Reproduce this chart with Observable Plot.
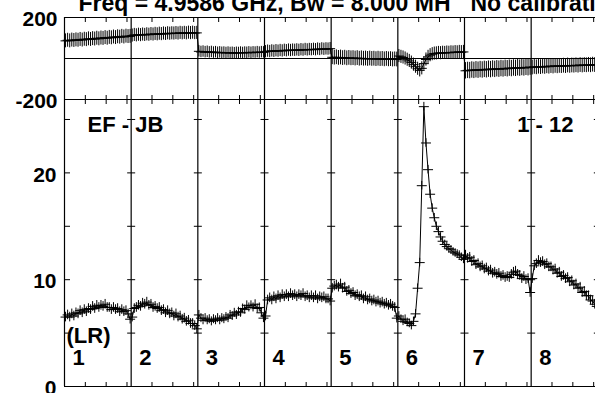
<!DOCTYPE html>
<html><head><meta charset="utf-8">
<script src="https://cdn.jsdelivr.net/npm/d3@7"></script>
<script src="https://cdn.jsdelivr.net/npm/@observablehq/plot@0.6"></script>
<style>
html,body{margin:0;padding:0;background:#fff;overflow:hidden;width:595px;height:393px;}
#wrap{position:relative;width:595px;height:393px;overflow:hidden;}
#wrap svg{position:absolute;left:0;top:0;}
</style></head><body><div id="wrap"></div>
<script>
// ---- data ----
const titleLeft = "Freq = 4.9586 GHz, Bw = 8.000 MH";
const titleRight = "No calibrati";
const baselineLabel = "EF - JB";
const chanRange = "1 - 12";
const polLabel = "(LR)";
const ifLabels = ["1","2","3","4","5","6","7","8"];
const nChan = 32;
const chanTicks = [10, 20, 30];
const phaseLabels = [-200, 200];
const ampLabels = [0, 10, 20];
const ampMinorTicks = [5, 10, 15, 20, 25];
const ampMax = 26.87;

const amp1 = [6.5,6.7,6.5,6.8,6.6,6.9,6.8,7.1,6.9,7.2,7.0,7.3,7.2,7.5,7.3,7.6,7.4,7.6,7.5,7.7,7.4,7.4,7.2,7.4,7.2,7.3,7.0,7.2,7.0,7.1,6.8,6.3];
const amp2 = [6.5,7.3,7.4,7.6,7.5,7.8,7.7,7.9,7.6,7.7,7.4,7.5,7.3,7.4,7.1,7.2,6.9,7.1,6.8,6.9,6.6,6.8,6.5,6.6,6.3,6.4,6.1,6.2,5.9,5.9,5.7,5.4];
const amp3 = [6.7,6.4,6.2,6.4,6.2,6.3,6.1,6.3,6.2,6.4,6.2,6.4,6.3,6.5,6.4,6.7,6.6,6.9,6.7,7.0,6.9,7.3,7.2,7.6,7.4,7.6,7.4,7.7,7.3,7.4,6.9,6.4];
const amp4 = [6.6,8.1,8.3,8.1,8.4,8.2,8.5,8.3,8.6,8.4,8.6,8.4,8.7,8.5,8.6,8.4,8.6,8.5,8.7,8.4,8.5,8.3,8.5,8.3,8.5,8.2,8.4,8.3,8.4,8.2,8.2,8.0];
const amp5 = [9.2,9.4,9.5,9.3,9.6,9.2,9.3,8.9,9.0,8.7,8.8,8.5,8.6,8.4,8.5,8.2,8.4,8.1,8.2,8.0,8.1,7.9,8.0,7.8,7.9,7.7,7.8,7.6,7.7,7.5,7.4,6.4];
const amp6 = [6.6,6.3,6.1,6.3,6.0,5.9,5.7,6.1,6.8,9.2,11.6,18.8,26.2,22.8,20.3,18.0,16.7,15.8,15.0,14.5,14.0,13.6,13.3,13.1,12.9,12.8,12.6,12.5,12.4,12.3,12.1,11.9];
const amp7 = [12.3,12.0,12.1,11.7,11.8,11.4,11.5,11.2,11.3,11.0,11.1,10.8,10.9,10.6,10.7,10.5,10.6,10.3,10.4,10.2,10.3,10.2,10.5,10.7,10.8,10.5,10.4,10.1,10.3,10.0,10.1,8.8];
const amp8 = [10.1,11.3,11.5,11.8,11.6,11.7,11.4,11.5,11.2,11.2,10.9,11.0,10.6,10.7,10.3,10.4,10.1,10.2,9.8,9.9,9.5,9.6,9.2,9.3,8.8,8.9,8.5,8.5,8.1,8.0,7.7,7.5];

const ph1 = [86,89,86,90,88,91,89,93,90,94,92,96,93,97,95,99,96,100,98,102,99,103,101,105,102,106,104,108,105,109,107,108];
const ph2 = [112,115,113,116,114,117,115,118,116,119,117,120,118,121,119,122,120,123,121,123,122,124,122,125,123,125,123,126,124,126,124,125];
const ph3 = [35,32,34,31,33,30,32,29,31,28,30,28,29,27,29,27,28,26,28,27,29,27,29,28,30,28,30,29,31,29,31,30];
const ph4 = [33,36,34,37,35,38,36,39,37,40,38,41,39,41,40,42,40,43,41,44,42,44,43,45,43,46,44,47,45,47,46,48];
const ph5 = [6,4,6,3,5,2,4,1,3,1,2,0,2,-1,1,-1,0,-2,0,-2,-1,-3,-1,-3,-2,-4,-2,-4,-3,-5,-4,-5];
const ph6 = [12,8,5,0,-6,-12,-20,-30,-40,-50,-58,-48,-25,-5,8,16,21,24,25,27,26,28,27,29,28,30,29,31,30,32,31,32];
const ph7 = [-60,-58,-59,-56,-58,-55,-57,-54,-56,-53,-55,-52,-54,-51,-53,-50,-52,-49,-51,-48,-50,-47,-49,-46,-48,-45,-47,-44,-46,-43,-45,-42];
const ph8 = [-44,-41,-43,-40,-42,-39,-41,-38,-40,-37,-39,-36,-38,-36,-37,-35,-37,-34,-36,-34,-35,-33,-35,-32,-34,-32,-33,-31,-33,-30,-32,-30];

const ampErr = [0.45,0.45,0.42,0.45,0.45,0.4,0.45,0.45];
const phErr = [34,32,28,30,36,32,40,36];

// ---- build table ----
const amps = [amp1,amp2,amp3,amp4,amp5,amp6,amp7,amp8];
const phs = [ph1,ph2,ph3,ph4,ph5,ph6,ph7,ph8];
const data = [];
amps.forEach((a, k) => a.forEach((v, c) => data.push({
  x: k * nChan + c + 0.5, amp: v, ae: ampErr[k], ph: phs[k][c], pe: phErr[k]
})));
const bounds = d3.range(0, ifLabels.length + 1).map(k => k * nChan);
const inner = bounds.slice(1);
const xTicks = d3.range(ifLabels.length).flatMap(k => chanTicks.map(t => k * nChan + t));
const ampCross = inner.flatMap(b => ampMinorTicks.map(v => ({b, v})));

const font = "'Liberation Sans', Arial, Helvetica, sans-serif";
const hbar = {draw(ctx, size) { const r = Math.sqrt(size / Math.PI); ctx.moveTo(-r, 0); ctx.lineTo(r, 0); }};
const xOpt = {domain: [0, ifLabels.length * nChan], range: [64, 597.33]};
const styleOpt = {background: "transparent", overflow: "visible", fontFamily: font, fontWeight: "bold", fontSize: "21px", color: "black"};
const txt = {fontWeight: "bold", lineAnchor: "middle"};

const topPlot = Plot.plot({
  width: 595, height: 393, marginLeft: 64, marginRight: 0, marginTop: 17, marginBottom: 294,
  x: xOpt, y: {domain: [-200, 200]},
  style: styleOpt,
  marks: [
    Plot.ruleY([-200, 0, 200], {stroke: "black", strokeWidth: 1.2}),
    Plot.ruleX(bounds, {stroke: "black", strokeWidth: 1.2}),
    Plot.axisX(xTicks, {anchor: "top", tickSize: -4, tickFormat: () => "", label: null}),
    Plot.axisX(xTicks, {anchor: "bottom", tickSize: -4, tickFormat: () => "", label: null}),
    Plot.axisY(phaseLabels, {anchor: "left", tickSize: 0, tickPadding: 7, tickFormat: d => String(d), label: null, dy: 2, fontSize: 21}),
    Plot.line(data, {x: "x", y: "ph", stroke: "black", strokeWidth: 1}),
    Plot.ruleX(data, {x: "x", y1: d => d.ph - d.pe, y2: d => d.ph + d.pe, stroke: "black", strokeWidth: 1}),
    Plot.dot(data, {x: "x", y: "ph", symbol: hbar, r: 5, stroke: "black", fill: "none", strokeWidth: 1}),
    Plot.text([titleLeft], {...txt, frameAnchor: "top-left", textAnchor: "start", dx: 14, dy: -13.4, fontSize: 23}),
    Plot.text([titleRight], {...txt, frameAnchor: "top-left", textAnchor: "start", dx: 406, dy: -13.4, fontSize: 23})
  ]
});

const botPlot = Plot.plot({
  width: 595, height: 393, marginLeft: 64, marginRight: 0, marginTop: 99, marginBottom: 7,
  x: xOpt, y: {domain: [0, ampMax]},
  style: styleOpt,
  marks: [
    Plot.ruleY([0], {stroke: "black", strokeWidth: 1.2}),
    Plot.ruleX(bounds, {stroke: "black", strokeWidth: 1.2}),
    Plot.axisX(xTicks, {anchor: "top", tickSize: -4, tickFormat: () => "", label: null}),
    Plot.axisX(xTicks, {anchor: "bottom", tickSize: -4, tickFormat: () => "", label: null}),
    Plot.axisY(ampMinorTicks, {anchor: "left", tickSize: -6, tickFormat: () => "", label: null}),
    Plot.dot(ampCross, {x: "b", y: "v", symbol: hbar, r: 4, stroke: "black", fill: "none", strokeWidth: 1}),
    Plot.axisY(ampLabels, {anchor: "left", tickSize: 0, tickPadding: 8, tickFormat: d => String(d), label: null, dy: 2, fontSize: 21}),
    Plot.line(data, {x: "x", y: "amp", stroke: "black", strokeWidth: 1}),
    Plot.ruleX(data, {x: "x", y1: d => d.amp - d.ae, y2: d => d.amp + d.ae, stroke: "black", strokeWidth: 1}),
    Plot.dot(data, {x: "x", y: "amp", symbol: hbar, r: 5, stroke: "black", fill: "none", strokeWidth: 1}),
    Plot.text([baselineLabel], {...txt, frameAnchor: "top-left", textAnchor: "start", dx: 23, dy: 25, fontSize: 22}),
    Plot.text([chanRange], {...txt, frameAnchor: "top-right", textAnchor: "end", dx: -22, dy: 25, fontSize: 22}),
    Plot.text([polLabel], {...txt, frameAnchor: "bottom-left", textAnchor: "start", dx: 2, dy: -51, fontSize: 22}),
    Plot.text(ifLabels, {...txt, x: (d, i) => bounds[i], frameAnchor: "bottom", textAnchor: "start", dx: 8, dy: -28.5, fontSize: 22})
  ]
});

const wrap = document.getElementById("wrap");
wrap.appendChild(topPlot);
wrap.appendChild(botPlot);
</script></body></html>
